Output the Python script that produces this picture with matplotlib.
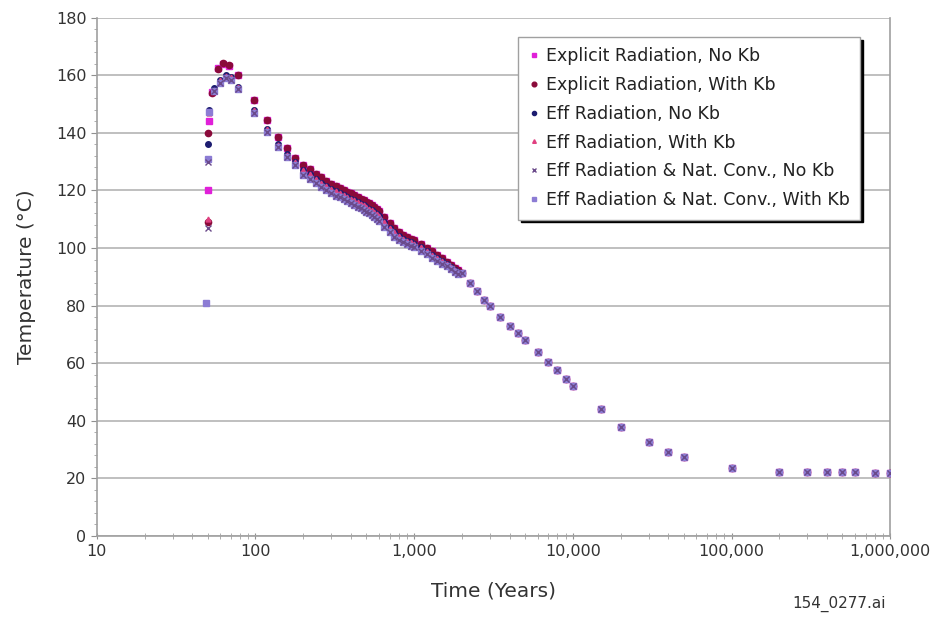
import matplotlib
matplotlib.use("Agg")
import matplotlib.pyplot as plt
from matplotlib.ticker import FixedLocator, MultipleLocator, FuncFormatter

plt.rcParams['font.family'] = ['DejaVu Sans']

# early (start-up and peak) readings, one set per series
t_exp_nokb = [50, 51, 53, 58, 62, 68, 78, 98, 118, 138, 158, 178]
v_exp_nokb = [120, 144, 154.3, 162.6, 164, 163.3, 160.2, 151.5, 144.5, 138.6, 134.8, 131.3]
t_exp_kb = [50, 50.5, 53, 58, 62, 68, 78, 98, 118, 138, 158, 178]
v_exp_kb = [109, 140, 154, 162.3, 164.3, 163.5, 160.2, 151.5, 144.5, 138.6, 134.8, 131.3]
t_eff_nokb = [50.5, 51, 55, 60, 65, 70, 78, 98, 118, 138, 158, 178]
v_eff_nokb = [136, 148, 155.5, 158.5, 160, 159.5, 156, 148, 141.5, 136, 132.5, 130]
t_eff_kb = [50, 51, 55, 60, 65, 70, 78, 98, 118, 138, 158, 178]
v_eff_kb = [110, 147, 155, 158.3, 159.8, 159.3, 155.8, 147.8, 141.3, 135.8, 132.3, 129.8]
t_nc_nokb = [50, 50.5, 55, 60, 65, 70, 78, 98, 118, 138, 158, 178]
v_nc_nokb = [107, 130, 154.5, 157.4, 159, 158.5, 155.3, 147, 140.4, 135, 131.7, 129]
t_nc_kb = [49, 50.5, 51, 55, 60, 65, 70, 78, 98, 118, 138, 158, 178]
v_nc_kb = [81, 131, 147.3, 154.5, 157.4, 159, 158.5, 155.3, 147, 140.4, 135, 131.7, 129]

# dense middle part (200 - 1900 years)
t_mid = [200, 220, 240, 260, 280, 300, 320, 340, 360, 380, 400, 420, 440, 460,
         480, 500, 520, 540, 560, 580, 600, 650, 700, 750, 800, 850, 900, 950,
         1000, 1100, 1200, 1300, 1400, 1500, 1600, 1700, 1800, 1900]
v_mid_explicit = [129.0, 127.5, 125.8, 124.5, 123.3, 122.3, 121.6, 121.0, 120.3,
                  119.6, 119.0, 118.4, 117.8, 117.2, 116.6, 116.1, 115.6, 115.0,
                  114.3, 113.5, 112.8, 110.8, 108.6, 107.0, 105.7, 104.7, 103.9,
                  103.3, 102.8, 101.5, 100.0, 98.8, 97.6, 96.5, 95.3, 94.2, 93.2, 92.3]
v_mid_eff = [127.0, 125.6, 124.0, 122.7, 121.6, 120.6, 119.8, 119.2, 118.5, 117.8,
             117.2, 116.6, 116.0, 115.4, 114.8, 114.3, 113.7, 113.1, 112.4, 111.7,
             111.0, 109.0, 107.0, 105.5, 104.3, 103.3, 102.6, 102.0, 101.5, 100.2,
             98.9, 97.7, 96.6, 95.5, 94.4, 93.4, 92.4, 91.6]
v_mid_nc = [125.5, 124.0, 122.5, 121.2, 120.0, 119.0, 118.2, 117.6, 116.9, 116.2,
            115.6, 115.0, 114.4, 113.8, 113.2, 112.6, 112.0, 111.4, 110.7, 110.0,
            109.3, 107.2, 105.4, 104.0, 102.9, 102.0, 101.3, 100.7, 100.2, 99.0,
            97.8, 96.7, 95.6, 94.6, 93.6, 92.6, 91.7, 90.9]

# late part, all runs the same
t_late = [2000, 2250, 2500, 2750, 3000, 3500, 4000, 4500, 5000, 6000, 7000, 8000,
          9000, 10000, 15000, 20000, 30000, 40000, 50000, 100000, 200000, 300000,
          400000, 500000, 600000, 800000, 1000000]
v_late = [91.5, 88, 85, 82, 80, 76, 73, 70.5, 68, 63.8, 60.3, 57.8, 54.5, 52, 44,
          38, 32.5, 29, 27.5, 23.5, 22.3, 22.3, 22.3, 22.2, 22.2, 22.0, 22.0]

labels = ["Explicit Radiation, No Kb", "Explicit Radiation, With Kb",
          "Eff Radiation, No Kb", "Eff Radiation, With Kb",
          "Eff Radiation & Nat. Conv., No Kb", "Eff Radiation & Nat. Conv., With Kb"]

# (times, values, middle values, marker, colour, size, zorder)
series = [
    (t_exp_nokb, v_exp_nokb, v_mid_explicit, 's', '#e020d8', 4.5, 3),
    (t_exp_kb, v_exp_kb, v_mid_explicit, 'o', '#8a0a3a', 4.5, 4),
    (t_eff_nokb, v_eff_nokb, v_mid_eff, 'o', '#1c1c70', 4, 5),
    (t_eff_kb, v_eff_kb, v_mid_eff, '^', '#e04080', 3.5, 6),
    (t_nc_nokb, v_nc_nokb, v_mid_nc, 'x', '#6a4a8a', 4, 8),
    (t_nc_kb, v_nc_kb, v_mid_nc, 's', '#8c7cd4', 4.5, 7),
]

fig = plt.figure(figsize=(9.4, 6.2), dpi=100)
ax = fig.add_axes([0.103, 0.1355, 0.844, 0.836])

for (te, ve, vm, mk, col, ms, z), lab in zip(series, labels):
    t = te + t_mid + t_late
    v = ve + vm + v_late
    ax.plot(t, v, linestyle='none', marker=mk, color=col, markersize=ms,
            markeredgewidth=1.0, label=lab, zorder=z)

ax.set_xscale('log')
ax.set_xlim(10, 1000000)
ax.set_ylim(0, 180)
ax.yaxis.set_major_locator(MultipleLocator(20))
ax.yaxis.set_minor_locator(MultipleLocator(4))
ax.xaxis.set_major_locator(FixedLocator([10, 100, 1000, 10000, 100000, 1000000]))
ax.xaxis.set_major_formatter(FuncFormatter(lambda x, p: f"{int(round(x)):,}"))

ax.grid(axis='y', which='major', color='#b4b4b4', linewidth=1.2)
ax.set_axisbelow(True)
for side in ['left', 'bottom', 'right', 'top']:
    ax.spines[side].set_color('#a0a0a0')
    ax.spines[side].set_linewidth(1.2)
ax.spines['top'].set_visible(False)

ax.tick_params(axis='both', which='major', labelsize=11.5, labelcolor='#333333',
               color='#909090', length=4)
ax.tick_params(axis='both', which='minor', color='#a0a0a0', length=2.5)
ax.tick_params(axis='x', which='both', direction='inout', length=5)

ax.set_xlabel("Time (Years)", fontsize=14.5, color='#333333', labelpad=16)
ax.set_ylabel("Temperature (°C)", fontsize=14.5, color='#333333', labelpad=14)

leg = ax.legend(loc='upper right', bbox_to_anchor=(0.962, 0.963), borderaxespad=0,
                fontsize=12.5, frameon=True, fancybox=False, numpoints=1,
                handlelength=0.6, handletextpad=0.4, markerscale=0.75,
                labelspacing=0.62, borderpad=0.6,
                shadow={'color': 'black', 'alpha': 1.0})
leg.get_frame().set_edgecolor('#a0a0a0')
leg.get_frame().set_linewidth(1.0)
for txt in leg.get_texts():
    txt.set_color('#222222')

fig.text(0.893, 0.02, "154_0277.ai", fontsize=11, color='#333333', ha='center')

fig.savefig("out.png", dpi=100)
